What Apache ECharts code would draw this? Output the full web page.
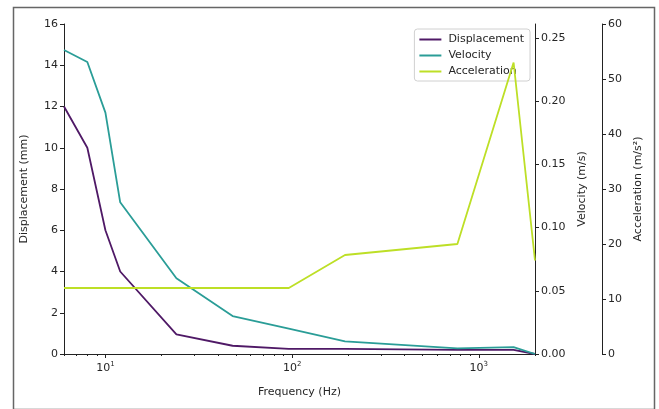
<!DOCTYPE html>
<html>
<head>
<meta charset="utf-8">
<script src="https://cdn.jsdelivr.net/npm/echarts@6/dist/echarts.min.js"></script>
<style>
  html, body { margin: 0; padding: 0; background: #fff; }
  #chart { width: 659px; height: 409px; }
</style>
</head>
<body>
<div id="chart"></div>
<script>
// frequency points (Hz)
const freq = [6, 8, 10, 12, 24, 48, 96, 192, 768, 1536, 2000];
const displacement = [12, 10, 6, 4, 0.95, 0.4, 0.25, 0.25, 0.2, 0.2, 0];
const velocity = [0.2405, 0.231, 0.191, 0.12, 0.06, 0.03, 0.02, 0.01, 0.0045, 0.0055, 0];
const acceleration = [12, 12, 12, 12, 12, 12, 12, 18, 20, 53, 17];

const majorX = [10, 100, 1000];
const minorX = [6, 7, 8, 9, 20, 30, 40, 50, 60, 70, 80, 90, 200, 300, 400, 500, 600, 700, 800, 900, 2000];
const velTicks = [0, 0.05, 0.1, 0.15, 0.2, 0.25];

const font = "DejaVu Sans";
const ink = "#262626";

const pairs = (ys) => freq.map((f, i) => [f, ys[i]]);

const chart = echarts.init(document.getElementById("chart"));

const option = {
  animation: false,
  textStyle: { fontFamily: font },
  grid: { left: 64, right: 124, top: 24, bottom: 55 },
  graphic: [
    {
      type: "rect",
      left: 11, top: 5,
      shape: { width: 641, height: 402 },
      style: { fill: "none", stroke: "#666", lineWidth: 1.5 },
      silent: true
    }
  ],
  legend: {
    orient: "vertical",
    right: 129, top: 29,
    itemWidth: 22, itemHeight: 2, itemGap: 5,
    icon: "rect",
    padding: [5, 6, 4, 5],
    backgroundColor: "rgba(255,255,255,0.8)",
    borderColor: "#d0d0d0", borderWidth: 1, borderRadius: 3,
    textStyle: { fontFamily: font, fontSize: 11, color: ink, padding: [0, 0, 0, 2] },
    z: 1,
    data: ["Displacement", "Velocity", "Acceleration"]
  },
  xAxis: [
    {
      type: "log", logBase: 10, min: 6, max: 2000,
      name: "Frequency (Hz)", nameLocation: "middle", nameGap: 33,
      nameTextStyle: { fontFamily: font, fontSize: 11, color: ink },
      axisLine: { lineStyle: { color: "#222" } },
      axisTick: { length: 4, lineStyle: { color: "#222" }, customValues: majorX },
      axisLabel: {
        customValues: majorX, margin: 7, color: ink, fontSize: 11,
        formatter: (v) => "10{s|" + Math.round(Math.log10(v)) + "}",
        rich: { s: { fontSize: 7, verticalAlign: "top", padding: [0, 0, 7, 0], color: ink } }
      },
      splitLine: { show: false }
    },
    {
      type: "log", logBase: 10, min: 6, max: 2000, position: "bottom",
      axisLine: { show: false },
      axisTick: { length: 2, lineStyle: { color: "#222" }, customValues: minorX },
      axisLabel: { show: false },
      splitLine: { show: false }
    },
    {
      type: "log", logBase: 10, min: 6, max: 2000, position: "top",
      axisLine: { lineStyle: { color: "#222" } },
      axisTick: { show: false }, axisLabel: { show: false },
      splitLine: { show: false }
    }
  ],
  yAxis: [
    {
      type: "value", min: 0, max: 16, interval: 2, position: "left",
      name: "Displacement (mm)", nameLocation: "middle", nameGap: 34, nameRotate: 90,
      nameTextStyle: { fontFamily: font, fontSize: 11, color: ink },
      axisLine: { show: true, lineStyle: { color: "#222" } },
      axisTick: { show: true, length: 4, lineStyle: { color: "#222" } },
      axisLabel: { color: ink, fontSize: 11, margin: 6 },
      splitLine: { show: false }
    },
    {
      type: "value", min: 0, max: 0.2611, position: "right",
      name: "Velocity (m/s)", nameLocation: "middle", nameGap: 40, nameRotate: 90,
      nameTextStyle: { fontFamily: font, fontSize: 11, color: ink },
      axisLine: { show: true, lineStyle: { color: "#222" } },
      axisTick: { show: true, length: 4, lineStyle: { color: "#222" }, customValues: velTicks },
      axisLabel: { color: ink, fontSize: 11, margin: 6, customValues: velTicks,
        formatter: (v) => v.toFixed(2) },
      splitLine: { show: false }
    },
    {
      type: "value", min: 0, max: 60, interval: 10, position: "right", offset: 67,
      name: "Acceleration (m/s²)", nameLocation: "middle", nameGap: 30, nameRotate: 90,
      nameTextStyle: { fontFamily: font, fontSize: 11, color: ink },
      axisLine: { show: true, lineStyle: { color: "#222" } },
      axisTick: { show: true, length: 4, lineStyle: { color: "#222" } },
      axisLabel: { color: ink, fontSize: 11, margin: 6 },
      splitLine: { show: false }
    }
  ],
  series: [
    {
      name: "Displacement", type: "line", xAxisIndex: 0, yAxisIndex: 0,
      data: pairs(displacement), showSymbol: false, color: "#4f1966",
      lineStyle: { width: 1.8 }
    },
    {
      name: "Velocity", type: "line", xAxisIndex: 0, yAxisIndex: 1,
      data: pairs(velocity), showSymbol: false, color: "#2a9d97",
      lineStyle: { width: 1.8 }
    },
    {
      name: "Acceleration", type: "line", xAxisIndex: 0, yAxisIndex: 2,
      data: pairs(acceleration), showSymbol: false, color: "#bddf26",
      lineStyle: { width: 1.8 }
    }
  ]
};

chart.setOption(option);
</script>
</body>
</html>
